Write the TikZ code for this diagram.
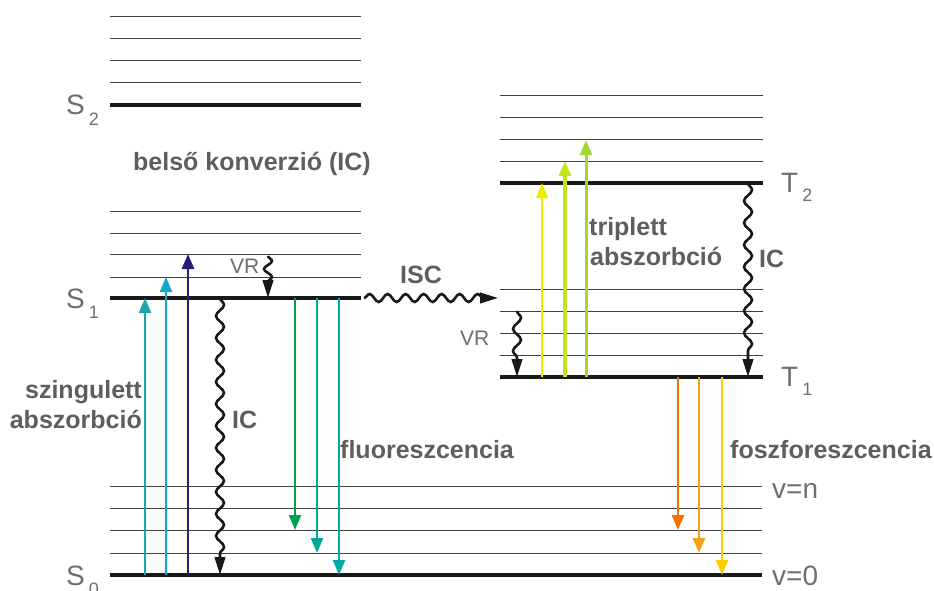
\documentclass[tikz,border=0pt]{standalone}
\usepackage{fontspec}
\setmainfont{Liberation Sans}
\usetikzlibrary{arrows.meta,decorations.pathmorphing}
\definecolor{labgray}{HTML}{5E5E5E}
\definecolor{ltgray}{HTML}{6E6E6E}
\definecolor{lvlcol}{HTML}{404040}
\definecolor{sa1}{HTML}{1AA6A6}
\definecolor{sa2}{HTML}{12A8C6}
\definecolor{sa3}{HTML}{2E1A78}
\definecolor{fl1}{HTML}{00A04E}
\definecolor{fl2}{HTML}{00A89C}
\definecolor{fl3}{HTML}{00AAA6}
\definecolor{ta1}{HTML}{E6F000}
\definecolor{ta2}{HTML}{C6E41E}
\definecolor{ta3}{HTML}{A6D636}
\definecolor{ph1}{HTML}{F07000}
\definecolor{ph2}{HTML}{F5A01E}
\definecolor{ph3}{HTML}{FFCC00}
\begin{document}
\begin{tikzpicture}[x=1pt,y=-1pt,
  lvl/.style={line width=1pt, draw=lvlcol},
  blvl/.style={line width=3.8pt, draw=black!90},
  arr/.style={line width=2.4pt, -{Triangle[length=15pt,width=12pt]}},
  wavy/.style={line width=2.6pt, draw=black!90, decorate,
    decoration={snake, amplitude=4pt, segment length=22pt, post length=17pt},
    -{Triangle[length=18pt,width=10.5pt]}},
  shortwavy/.style={wavy, decoration={snake, amplitude=4pt, segment length=16pt, post length=16pt}},
  bl/.style={font=\fontsize{25}{30}\selectfont\bfseries, text=labgray, inner sep=0pt},
  ll/.style={font=\fontsize{28}{30}\selectfont, text=ltgray, inner sep=0pt},
  vl/.style={font=\fontsize{21}{24}\selectfont, text=ltgray, inner sep=0pt}]
\useasboundingbox (0,0) rectangle (934,591);

% ---- S2 manifold
\foreach \y in {17,39,61,83} \draw[lvl] (110,\y) -- (361,\y);
\draw[blvl] (110,105) -- (361,105);
% ---- S1 manifold
\foreach \y in {211,233,254,277} \draw[lvl] (110,\y) -- (361,\y);
\draw[blvl] (110,298) -- (361,298);
% ---- S0 manifold
\foreach \y in {486,508,530,553} \draw[lvl] (110,\y) -- (762,\y);
\draw[blvl] (110,575) -- (762,575);
% ---- T2 manifold
\foreach \y in {96,118,140,161} \draw[lvl] (500,\y) -- (763,\y);
\draw[blvl] (500,183) -- (763,183);
% ---- T1 manifold
\foreach \y in {289,311,333,355} \draw[lvl] (500,\y) -- (763,\y);
\draw[blvl] (500,377) -- (763,377);

% ---- level labels
\node[ll, anchor=base west] (lS2) at (66,115) {S\hspace{4pt}\raisebox{-10pt}{\fontsize{18}{18}\selectfont 2}};
\node[ll, anchor=base west] (lS1) at (66,308) {S\hspace{4pt}\raisebox{-10pt}{\fontsize{18}{18}\selectfont 1}};
\node[ll, anchor=base west] (lS0) at (66,585) {S\hspace{4pt}\raisebox{-10pt}{\fontsize{18}{18}\selectfont 0}};
\node[ll, anchor=base west] (lT2) at (781,192) {T\hspace{4pt}\raisebox{-9pt}{\fontsize{18}{18}\selectfont 2}};
\node[ll, anchor=base west] (lT1) at (781,386) {T\hspace{4pt}\raisebox{-9pt}{\fontsize{18}{18}\selectfont 1}};
\node[ll, anchor=base west] (lvn) at (772,498) {v=n};
\node[ll, anchor=base west] (lv0) at (772,585) {v=0};

% ---- coordinates for transitions
\coordinate (a1s) at (145,575); \coordinate (a1e) at (145,298);
\coordinate (a2s) at (166,575); \coordinate (a2e) at (166,277);
\coordinate (a3s) at (188,575); \coordinate (a3e) at (188,254);
\coordinate (f1s) at (295,298); \coordinate (f1e) at (295,530);
\coordinate (f2s) at (317,298); \coordinate (f2e) at (317,553);
\coordinate (f3s) at (339,298); \coordinate (f3e) at (339,575);
\coordinate (t1s) at (542,377); \coordinate (t1e) at (542,183);
\coordinate (t2s) at (565,377); \coordinate (t2e) at (565,161);
\coordinate (t3s) at (586,377); \coordinate (t3e) at (586,140);
\coordinate (p1s) at (678,377); \coordinate (p1e) at (678,530);
\coordinate (p2s) at (699,377); \coordinate (p2e) at (699,553);
\coordinate (p3s) at (722,377); \coordinate (p3e) at (722,575);
\coordinate (vrs) at (268,256); \coordinate (vre) at (268,298);
\coordinate (ics) at (220,298); \coordinate (ice) at (220,575);
\coordinate (iscs) at (364,298); \coordinate (isce) at (498,298);
\coordinate (vrts) at (517,311); \coordinate (vrte) at (517,377);
\coordinate (icts) at (748,183); \coordinate (icte) at (748,377);

% ---- singlet absorption
\draw[arr, sa1] (a1s) -- (a1e);
\draw[arr, sa2] (a2s) -- (a2e);
\draw[arr, sa3, line width=2.8pt] (a3s) -- (a3e);
% ---- fluorescence
\draw[arr, fl1] (f1s) -- (f1e);
\draw[arr, fl2] (f2s) -- (f2e);
\draw[arr, fl3] (f3s) -- (f3e);
% ---- triplet absorption
\draw[arr, ta1, line width=2.2pt] (t1s) -- (t1e);
\draw[arr, ta2, line width=3.4pt] (t2s) -- (t2e);
\draw[arr, ta3, line width=3pt] (t3s) -- (t3e);
% ---- phosphorescence
\draw[arr, ph1, line width=2.8pt] (p1s) -- (p1e);
\draw[arr, ph2, line width=2.8pt] (p2s) -- (p2e);
\draw[arr, ph3] (p3s) -- (p3e);

% ---- non-radiative
\draw[shortwavy] (vrs) -- (vre);
\draw[wavy] (ics) -- (ice);
\draw[wavy, decoration={snake, amplitude=4pt, segment length=18pt, post length=14pt}] (iscs) -- (isce);
\draw[wavy] (vrts) -- (vrte);
\draw[wavy] (icts) -- (icte);

% ---- text labels
\node[bl, anchor=base west] (tbk) at (133,171) {belső konverzió (IC)};
\node[bl, anchor=base east] (tsz1) at (142,398) {szingulett};
\node[bl, anchor=base east] (tsz2) at (142,428) {abszorbció};
\node[bl, anchor=base west] (tic1) at (232,428) {IC};
\node[bl, anchor=base west] (tfl) at (340,458) {fluoreszcencia};
\node[bl, anchor=base west] (tisc) at (400,283) {ISC};
\node[bl, anchor=base west] (ttr1) at (589,235) {triplett};
\node[bl, anchor=base west] (ttr2) at (590,265) {abszorbció};
\node[bl, anchor=base west] (tic2) at (759,267) {IC};
\node[bl, anchor=base west] (tph) at (730,458) {foszforeszcencia};
\node[vl, anchor=base west] (tvr1) at (230,273) {VR};
\node[vl, anchor=base west] (tvr2) at (460,345) {VR};
\end{tikzpicture}
\end{document}
